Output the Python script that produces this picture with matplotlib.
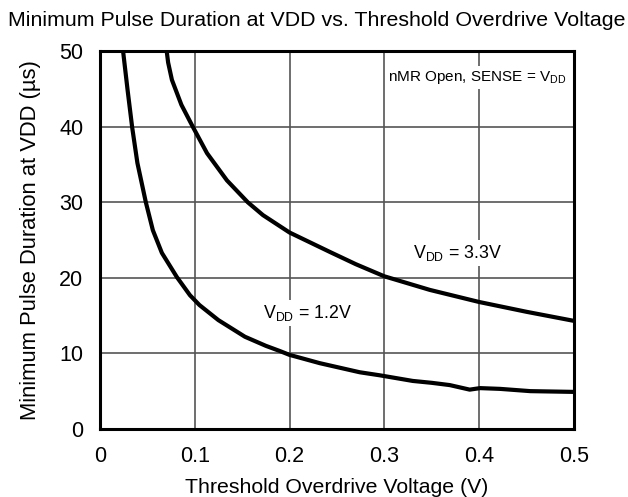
import matplotlib.pyplot as plt

plt.rcParams['font.family'] = ['Liberation Sans', 'DejaVu Sans']

##########################################################

# curve data

v_12 = [0.0245, 0.0293, 0.0341, 0.0396, 0.0485, 0.0559, 0.0654, 0.0812, 0.095,
        0.105, 0.125, 0.153, 0.175, 0.19, 0.20, 0.232, 0.274, 0.295, 0.33,
        0.35, 0.369, 0.39, 0.401, 0.422, 0.454, 0.50]
t_12 = [50, 44.8, 39.9, 35.2, 30, 26.3, 23.3, 20.1, 17.7,
        16.4, 14.4, 12.2, 11.0, 10.3, 9.8, 8.7, 7.5, 7.1, 6.35,
        6.1, 5.8, 5.2, 5.4, 5.3, 5.0, 4.9]

v_33 = [0.0705, 0.072, 0.076, 0.086, 0.098, 0.113, 0.134, 0.156, 0.172, 0.20,
        0.243, 0.27, 0.30, 0.348, 0.40, 0.45, 0.50]
t_33 = [50, 48.5, 46.2, 42.9, 40, 36.5, 32.9, 30, 28.3, 26.0,
        23.4, 21.8, 20.2, 18.4, 16.8, 15.5, 14.3]

x_ticks = [0, 0.1, 0.2, 0.3, 0.4, 0.5]
y_ticks = [0, 10, 20, 30, 40, 50]

##########################################################

fig = plt.figure(figsize=(6.28, 4.97), dpi=100)
ax = fig.add_axes([0.159, 0.137, 0.755, 0.760])

ax.plot(v_12, t_12, color="black", lw=3, solid_joinstyle="round")
ax.plot(v_33, t_33, color="black", lw=3, solid_joinstyle="round")

ax.set_xlim(0, 0.5)
ax.set_ylim(0, 50)
ax.set_xticks(x_ticks)
ax.set_xticklabels(["0", "0.1", "0.2", "0.3", "0.4", "0.5"])
ax.set_yticks(y_ticks)
ax.tick_params(length=0, labelsize=15.5, pad=12)
ax.grid(color="#555555", lw=1.2)
ax.set_axisbelow(True)
for s in ax.spines.values():
    s.set_linewidth(2.2)

ax.set_xlabel("Threshold Overdrive Voltage (V)", fontsize=15.3, labelpad=8)
ax.set_ylabel("Minimum Pulse Duration at VDD (\u00b5s)", fontsize=15.8, labelpad=13)
fig.suptitle("Minimum Pulse Duration at VDD vs. Threshold Overdrive Voltage",
             fontsize=15.4, x=0.505, y=0.978)

box = dict(facecolor="white", edgecolor="none", pad=2)
ax.text(0.492, 46.5, "nMR Open, SENSE = V$_{\\mathregular{DD}}$", fontsize=11,
        ha="right", va="center", bbox=box)
ax.text(0.330, 23.3, "V$_{\\mathregular{DD}}$ = 3.3V", fontsize=12.8,
        ha="left", va="center", bbox=box)
ax.text(0.172, 15.3, "V$_{\\mathregular{DD}}$ = 1.2V", fontsize=12.8,
        ha="left", va="center", bbox=box)

plt.savefig("out.png", dpi=100)
